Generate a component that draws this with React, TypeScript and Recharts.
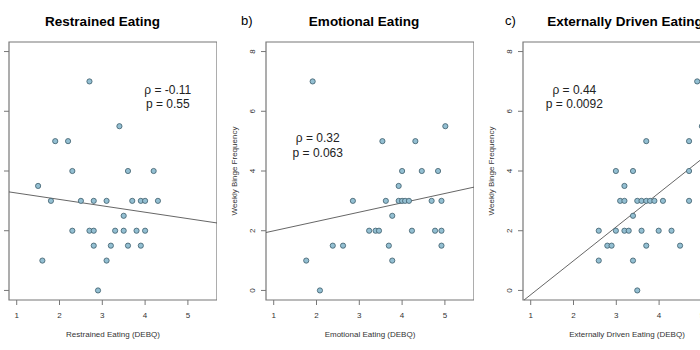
import React from "react";
import { ScatterChart, Scatter, XAxis, YAxis, ReferenceLine, ReferenceArea, ReferenceDot } from "recharts";

// values (x = DEBQ score, y = weekly binges)
const restrainedX = [2.7, 3.4, 1.9, 2.2, 2.3, 3.6, 4.2, 1.5, 1.8, 2.5, 2.8, 3.1, 3.7, 3.9, 4.0, 4.3, 3.5, 2.3, 2.7, 2.8, 3.3, 3.5, 3.8, 4.0, 2.8, 3.2, 3.6, 3.9, 1.6, 3.1, 2.9];
const restrainedY = [7, 5.5, 5, 5, 4, 4, 4, 3.5, 3, 3, 3, 3, 3, 3, 3, 3, 2.5, 2, 2, 2, 2, 2, 2, 2, 1.5, 1.5, 1.5, 1.5, 1, 1, 0];

const emotionalX = [1.91, 5.01, 3.54, 4.31, 4.0, 4.46, 4.84, 3.92, 2.85, 3.62, 3.92, 4.0, 4.07, 4.16, 4.69, 4.92, 3.77, 3.23, 3.38, 3.46, 4.23, 4.77, 4.92, 2.38, 2.62, 3.69, 4.92, 1.76, 3.77, 2.08];
const emotionalY = [7, 5.5, 5, 5, 4, 4, 4, 3.5, 3, 3, 3, 3, 3, 3, 3, 3, 2.5, 2, 2, 2, 2, 2, 2, 1.5, 1.5, 1.5, 1.5, 1, 1, 0];

const externalX = [4.89, 5.0, 3.7, 4.7, 2.99, 3.39, 4.7, 3.19, 3.09, 3.19, 3.49, 3.59, 3.7, 3.79, 3.89, 4.09, 4.7, 3.39, 2.59, 2.99, 3.19, 3.29, 3.59, 3.99, 4.29, 2.79, 2.89, 3.7, 4.49, 2.59, 3.39, 3.49];
const externalY = [7, 5.5, 5, 5, 4, 4, 4, 3.5, 3, 3, 3, 3, 3, 3, 3, 3, 3, 2.5, 2, 2, 2, 2, 2, 2, 2, 1.5, 1.5, 1.5, 1.5, 1, 1, 0];

// fitted lines, endpoints read where they meet the plot box
const restrainedFit = [{ x: 0.82, y: 3.3 }, { x: 5.68, y: 2.26 }];
const emotionalFit = [{ x: 0.82, y: 1.94 }, { x: 5.68, y: 3.46 }];
const externalFit = [{ x: 0.845, y: -0.32 }, { x: 5.68, y: 5.18 }];

const xTicks = [1, 2, 3, 4, 5];
const yTicks = [0, 2, 4, 6, 8];
const X_DOMAIN: [number, number] = [0.82, 5.68];
const Y_DOMAIN: [number, number] = [-0.32, 8.32];

const FONT = "'Liberation Sans', Arial, Helvetica, sans-serif";
const POINT_FILL = "#93bfd2";
const POINT_STROKE = "#3d5d6b";
const GREY = "#777";

function zip(xs: number[], ys: number[]) {
  return xs.map((x, i) => ({ x, y: ys[i] }));
}

const Dot = (p: any) => <circle cx={p.cx} cy={p.cy} r={2.6} fill={POINT_FILL} stroke={POINT_STROKE} strokeWidth={0.8} />;

const YTick = (p: any) => {
  const { x, y, payload } = p;
  return (
    <text x={x} y={y} dy="0.35em" textAnchor="middle" transform={`rotate(-90, ${x}, ${y})`} fontSize={8} fill="#333" fontFamily={FONT}>
      {payload.value}
    </text>
  );
};

// keeps the tick marks but draws no label
const NoTick = () => <g />;

const YLabel = (p: any) => {
  const vb = p.viewBox;
  const cx = vb.x + 26;
  const cy = vb.y + vb.height / 2;
  return (
    <text x={cx} y={cy} dy="0.35em" textAnchor="middle" transform={`rotate(-90, ${cx}, ${cy})`} fontSize={8} fill="#333" fontFamily={FONT}>
      Weekly Binge Frequency
    </text>
  );
};

function Panel({ left, xLabel, data, fit, stat, statPos, yText = true }: {
  left: number;
  xLabel: string;
  data: { x: number; y: number }[];
  fit: { x: number; y: number }[];
  stat: string[];
  statPos: { x: number; y: number };
  yText?: boolean;
}) {
  return (
    <div style={{ position: "absolute", left, top: 0 }}>
      <ScatterChart width={266} height={350} margin={{ top: 42, right: 0, bottom: 0, left: 0 }}>
        <XAxis
          type="number"
          dataKey="x"
          domain={X_DOMAIN}
          ticks={xTicks}
          allowDataOverflow
          axisLine={false}
          tickLine={{ stroke: GREY }}
          tickSize={5}
          tickMargin={7}
          height={50}
          tick={{ fontSize: 8, fill: "#333", fontFamily: FONT }}
          label={{ value: xLabel, position: "insideBottom", offset: 13, fontSize: 8, fill: "#333", fontFamily: FONT }}
        />
        <YAxis
          type="number"
          dataKey="y"
          domain={Y_DOMAIN}
          ticks={yTicks}
          allowDataOverflow
          axisLine={false}
          tickLine={{ stroke: GREY }}
          tickSize={5}
          tickMargin={9}
          width={58}
          tick={yText ? <YTick /> : <NoTick />}
          label={yText ? { content: YLabel } : undefined}
        />
        <ReferenceArea x1={X_DOMAIN[0]} x2={X_DOMAIN[1]} y1={Y_DOMAIN[0]} y2={Y_DOMAIN[1]} fill="none" fillOpacity={0} stroke={GREY} strokeWidth={1.2} ifOverflow="visible" />
        <ReferenceLine segment={fit} stroke="#555" strokeWidth={0.9} ifOverflow="visible" />
        <Scatter data={data} shape={Dot} isAnimationActive={false} />
        <ReferenceDot
          x={statPos.x}
          y={statPos.y}
          ifOverflow="visible"
          shape={(p: any) => (
            <g fontFamily={FONT} fontSize={12} fill="#222" textAnchor="middle">
              <text x={p.cx} y={p.cy - 7.3} dy="0.35em">{stat[0]}</text>
              <text x={p.cx} y={p.cy + 7.3} dy="0.35em">{stat[1]}</text>
            </g>
          )}
        />
      </ScatterChart>
    </div>
  );
}

const titleStyle: React.CSSProperties = {
  position: "absolute",
  top: 21,
  transform: "translate(-50%, -50%)",
  fontFamily: FONT,
  fontWeight: "bold",
  fontSize: 13.5,
  color: "#000",
  whiteSpace: "nowrap",
};
const tagStyle: React.CSSProperties = {
  position: "absolute",
  top: 20,
  transform: "translateY(-50%)",
  fontFamily: FONT,
  fontSize: 13,
  color: "#000",
};

export default function App() {
  return (
    <div style={{ position: "absolute", left: 0, top: 0, width: 700, height: 350, overflow: "hidden", background: "#fff" }}>
      {/* left panel is cut at the page edge, so its y labels are not visible */}
      <Panel left={-49} xLabel="Restrained Eating (DEBQ)" data={zip(restrainedX, restrainedY)} fit={restrainedFit} stat={["ρ = -0.11", "p = 0.55"]} statPos={{ x: 4.53, y: 6.48 }} yText={false} />
      <Panel left={208} xLabel="Emotional Eating (DEBQ)" data={zip(emotionalX, emotionalY)} fit={emotionalFit} stat={["ρ = 0.32", "p = 0.063"]} statPos={{ x: 2.03, y: 4.87 }} />
      <Panel left={465} xLabel="Externally Driven Eating (DEBQ)" data={zip(externalX, externalY)} fit={externalFit} stat={["ρ = 0.44", "p = 0.0092"]} statPos={{ x: 2.02, y: 6.48 }} />
      <div style={{ ...titleStyle, left: 102.5 }}>Restrained Eating</div>
      <div style={{ ...titleStyle, left: 364 }}>Emotional Eating</div>
      <div style={{ ...titleStyle, left: 625 }}>Externally Driven Eating</div>
      <div style={{ ...tagStyle, left: 241 }}>b)</div>
      <div style={{ ...tagStyle, left: 505 }}>c)</div>
    </div>
  );
}
